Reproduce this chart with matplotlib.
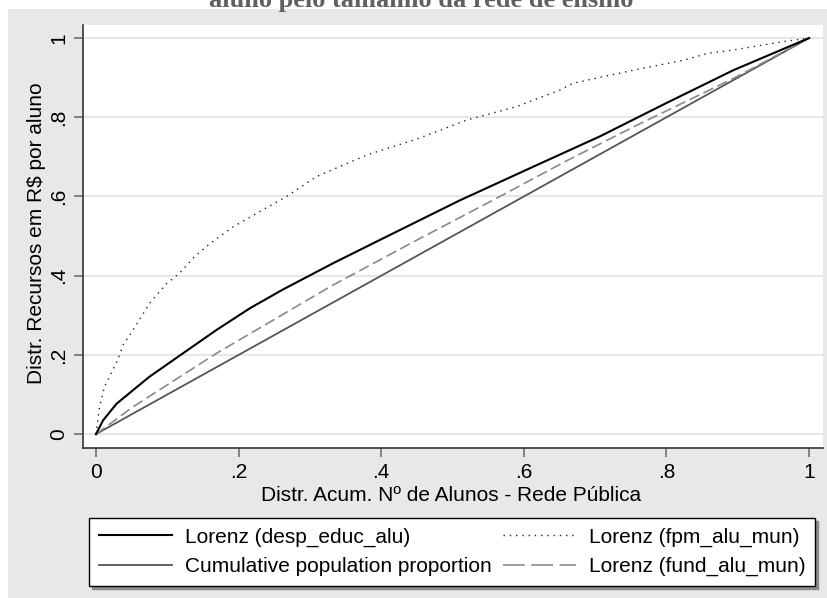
import matplotlib
matplotlib.use("Agg")
import matplotlib.pyplot as plt
from matplotlib.patches import Rectangle
from matplotlib.lines import Line2D

# ---- data ----
desp_x = [0, 0.01, 0.029, 0.075, 0.122, 0.169, 0.216, 0.262, 0.332, 0.40, 0.51, 0.613, 0.707, 0.80, 0.894, 1.0]
desp_y = [0, 0.035, 0.077, 0.145, 0.204, 0.263, 0.318, 0.365, 0.431, 0.492, 0.59, 0.675, 0.752, 0.836, 0.919, 1.0]

fund_x = [0, 0.052, 0.169, 0.332, 0.45, 0.557, 0.66, 0.754, 0.848, 0.894, 1.0]
fund_y = [0, 0.069, 0.204, 0.376, 0.49, 0.591, 0.69, 0.776, 0.858, 0.898, 1.0]

fpm_x = [0, 0.005, 0.012, 0.031, 0.038, 0.052, 0.075, 0.099, 0.117, 0.138, 0.159, 0.192,
         0.225, 0.267, 0.309, 0.38, 0.45, 0.52, 0.59, 0.651, 0.669, 0.754, 0.824, 0.857,
         0.894, 0.964, 1.0]
fpm_y = [0, 0.069, 0.12, 0.189, 0.225, 0.263, 0.33, 0.38, 0.406, 0.448, 0.48, 0.523,
         0.557, 0.60, 0.65, 0.705, 0.745, 0.793, 0.827, 0.869, 0.886, 0.919, 0.944, 0.961,
         0.97, 0.991, 1.0]

eq_x = [0, 1]
eq_y = [0, 1]

ticks = [0, 0.2, 0.4, 0.6, 0.8, 1.0]
tick_labels = ['0', '.2', '.4', '.6', '.8', '1']

labels = ['Lorenz (desp_educ_alu)', 'Cumulative population proportion',
          'Lorenz (fpm_alu_mun)', 'Lorenz (fund_alu_mun)']
title = 'aluno pelo tamanho da rede de ensino'
xlabel = 'Distr. Acum. Nº de Alunos - Rede Pública'
ylabel = 'Distr. Recursos em R$ por aluno'

plt.rcParams['font.family'] = ['Liberation Sans', 'DejaVu Sans']

W, H = 828, 598
fig = plt.figure(figsize=(W / 100, H / 100), dpi=100)
fig.patch.set_facecolor('white')
fig.patches.append(Rectangle((8 / W, 0), 1, (H - 9) / H, transform=fig.transFigure,
                             facecolor='#e8e8e8', edgecolor='none', zorder=-10))

fig.text(421 / W, (H - 7.5) / H, title, ha='center', va='baseline',
         family='Liberation Serif', fontweight='bold', fontsize=19, color='#606060')

ax = fig.add_axes([83 / W, (H - 448) / H, (823 - 83) / W, (448 - 25) / H])
ax.set_facecolor('white')

ax.plot(desp_x, desp_y, color='black', lw=1.5, zorder=4)
ax.plot(eq_x, eq_y, color='#555555', lw=1.3, zorder=3)
ax.plot(fpm_x, fpm_y, color='#222222', lw=1.0, linestyle=(0, (1, 3.5)), zorder=3)
ax.plot(fund_x, fund_y, color='#8a8a8a', lw=1.2, linestyle=(0, (6.5, 2.8)), zorder=3)

ax.set_xlim(-0.0182, 1.0196)
ax.set_ylim(-0.035, 1.033)
ax.set_xticks(ticks)
ax.set_xticklabels(tick_labels)
ax.set_yticks(ticks)
ax.set_yticklabels(tick_labels, rotation=90, va='center')
ax.grid(axis='y', color='#e6e6e6', lw=1.5, zorder=0)
ax.set_axisbelow(True)
for s in ['top', 'right']:
    ax.spines[s].set_visible(False)
for s in ['left', 'bottom']:
    ax.spines[s].set_color('#333333')
    ax.spines[s].set_linewidth(1.2)
ax.tick_params(axis='both', length=6.5, width=1.2, color='#707070', labelsize=15,
               labelcolor='black', pad=4)

ax.set_xlabel(xlabel, fontsize=15)
ax.xaxis.set_label_coords(0.498, -0.09)
ax.set_ylabel(ylabel, fontsize=15)
ax.yaxis.set_label_coords(-0.050, 0.509)

handles = [
    Line2D([], [], color='black', lw=1.5),
    Line2D([], [], color='#555555', lw=1.3),
    Line2D([], [], color='#222222', lw=1.0, linestyle=(0, (1, 3.5))),
    Line2D([], [], color='#8a8a8a', lw=1.2, linestyle=(0, (13, 4))),
]
leg = fig.legend(handles, labels, ncol=2, loc='lower left',
                 bbox_to_anchor=(89 / W, (H - 586) / H, (815 - 89) / W, 69 / H),
                 mode='expand', fontsize=15, frameon=True, fancybox=False,
                 edgecolor='black', handlelength=3.5, handletextpad=0.62,
                 labelspacing=0.48, borderaxespad=0, borderpad=0.47,
                 shadow={'color': '#8c8c8c', 'alpha': 1})
leg.get_frame().set_linewidth(1.0)
leg.get_frame().set_facecolor('white')

fig.savefig('out.png', dpi=100)
